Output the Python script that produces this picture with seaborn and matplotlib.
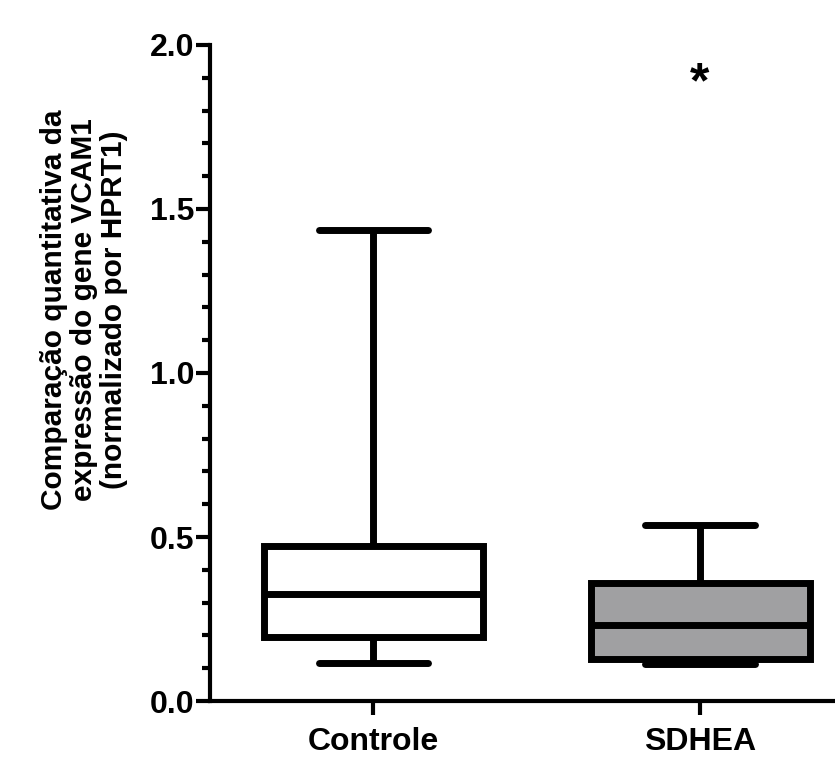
import numpy as np
import pandas as pd
import seaborn as sns
import matplotlib.pyplot as plt
from matplotlib.ticker import MultipleLocator

# five-number summaries (min, Q1, median, Q3, max)
grupos = ['Controle', 'SDHEA']
controle = [0.116, 0.195, 0.326, 0.473, 1.435]
sdhea = [0.112, 0.128, 0.232, 0.360, 0.537]
cores = {'Controle': 'white', 'SDHEA': '#a0a0a2'}

df = pd.DataFrame({
    'grupo': ['Controle'] * len(controle) + ['SDHEA'] * len(sdhea),
    'valor': controle + sdhea,
})

sns.set_style('ticks')
plt.rcParams['font.family'] = ['Liberation Sans', 'DejaVu Sans']
plt.rcParams['font.weight'] = 'bold'
plt.rcParams['text.color'] = 'black'
plt.rcParams['xtick.color'] = 'black'
plt.rcParams['ytick.color'] = 'black'

fig = plt.figure(figsize=(8.35, 7.62), dpi=100)
ax = fig.add_axes([0.2515, 0.080, 0.7485, 0.861])

sns.boxplot(data=df, x='grupo', y='valor', hue='grupo', order=grupos,
            palette=cores, whis=(0, 100), width=0.67, linewidth=5,
            linecolor='black', saturation=1, legend=False, ax=ax)

ax.set_ylim(0, 2.0)
ax.set_xlim(-0.5, 1.413)
ax.yaxis.set_major_locator(MultipleLocator(0.5))
ax.yaxis.set_minor_locator(MultipleLocator(0.1))
ax.yaxis.set_major_formatter(plt.FormatStrFormatter('%.1f'))

ax.tick_params(axis='both', which='major', direction='out', length=10,
               width=3, labelsize=23, color='black', labelcolor='black')
ax.tick_params(axis='y', which='major', pad=1)
ax.tick_params(axis='x', which='major', pad=9)
ax.tick_params(axis='y', which='minor', direction='out', length=6, width=3,
               color='black')
for lab in ax.get_xticklabels() + ax.get_yticklabels():
    lab.set_fontweight('bold')

for s in ['top', 'right']:
    ax.spines[s].set_visible(False)
for s in ['left', 'bottom']:
    ax.spines[s].set_linewidth(3)
    ax.spines[s].set_color('black')

ax.set_xlabel('')
ax.set_ylabel('')

# significance mark
ax.text(1, 1.88, '*', ha='center', va='center', fontsize=36, fontweight='bold')

fig.text(84 / 835, 1 - 310 / 762,
         'Comparação quantitativa da\nexpressão do gene VCAM1\n(normalizado por HPRT1)',
         rotation=90, ha='center', va='center', fontsize=21.5, fontweight='bold',
         linespacing=1.08, multialignment='center')

fig.savefig('out.png', dpi=100)
